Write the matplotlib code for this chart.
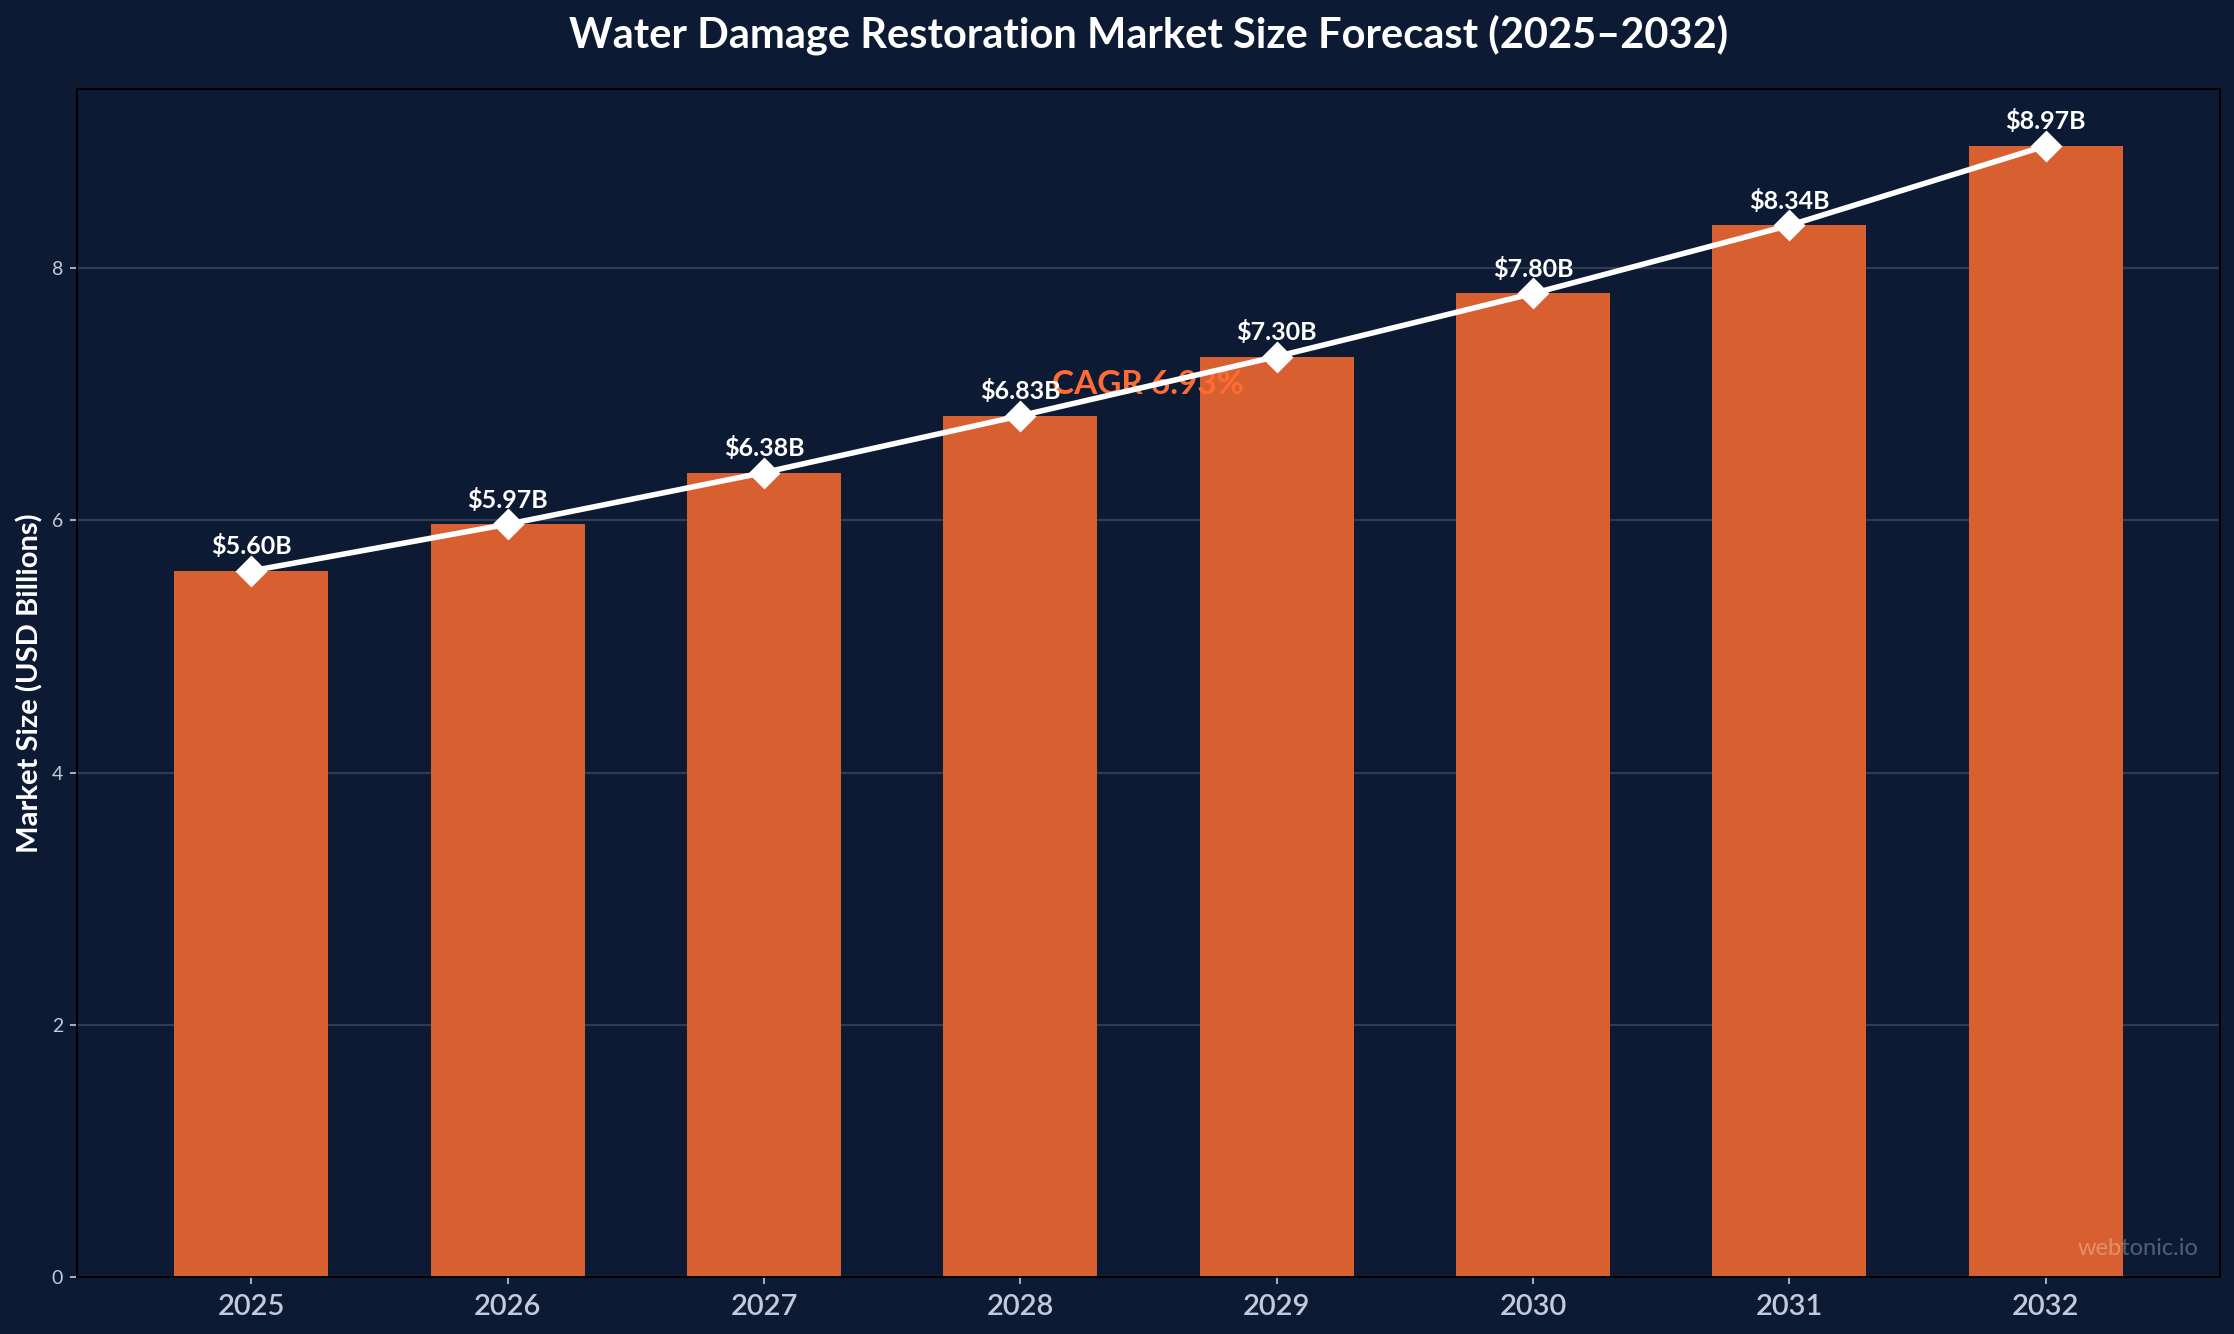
import matplotlib
matplotlib.use('Agg')
import matplotlib.pyplot as plt

# Market size forecast in USD billions
years = ['2025', '2026', '2027', '2028', '2029', '2030', '2031', '2032']
market_size = [5.60, 5.97, 6.38, 6.83, 7.30, 7.80, 8.34, 8.97]
cagr_label = 'CAGR 6.93%'

bg = '#0c1b33'
bar_color = '#d85f2f'
accent = '#ff6b35'
tick_color = '#c3cbdb'

plt.rcParams['font.family'] = ['Lato', 'DejaVu Sans']

fig, ax = plt.subplots(figsize=(11.17, 6.67), dpi=200)
fig.patch.set_facecolor(bg)
ax.set_facecolor(bg)

x = list(range(len(years)))
ax.bar(x, market_size, width=0.6, color=bar_color, zorder=2)
ax.plot(x, market_size, color='white', linewidth=2, marker='D', markersize=7,
        markerfacecolor='white', markeredgecolor='white', zorder=3)

# value labels above each point
for xi, v in zip(x, market_size):
    ax.annotate(f'${v:.2f}B', (xi, v), xytext=(0, 4.5), textcoords='offset points',
                ha='center', va='bottom', color='white', fontsize=9, fontweight='bold',
                zorder=4)

ax.text(3.5, 7.08, cagr_label, color=accent, fontsize=12, fontweight='bold',
        ha='center', va='center', zorder=2.5)

ax.set_xticks(x)
ax.set_xticklabels(years, fontsize=10.5, color=tick_color, fontweight='semibold')
ax.tick_params(axis='y', labelsize=7, colors=tick_color, length=2.5, width=0.6, pad=2.5)
ax.tick_params(axis='x', colors=tick_color, length=2.5, width=0.6)
ax.set_ylim(0, max(market_size) * 1.05)
ax.set_ylabel('Market Size (USD Billions)', color='white', fontsize=10.5, fontweight='bold',
              labelpad=3)
ax.set_title('Water Damage Restoration Market Size Forecast (2025\u20132032)',
             color='white', fontsize=15, fontweight='bold', pad=15)
ax.grid(axis='y', color='white', alpha=0.15, linewidth=0.8, zorder=0)
ax.set_axisbelow(True)
for s in ax.spines.values():
    s.set_color('black')
    s.set_linewidth(0.7)

ax.text(0.99, 0.015, 'webtonic.io', transform=ax.transAxes, ha='right', va='bottom',
        color='white', alpha=0.3, fontsize=8.5, zorder=5)

plt.subplots_adjust(left=0.0345, right=0.9937, top=0.933, bottom=0.0427)
plt.savefig('out.png', facecolor=bg)
